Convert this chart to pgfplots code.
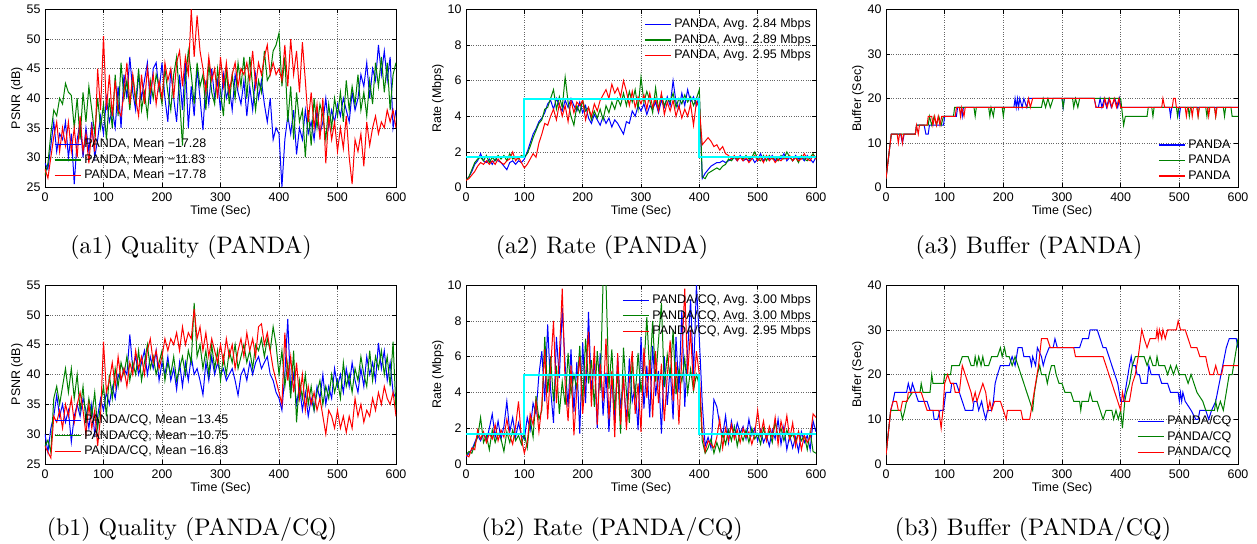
\documentclass[border=0pt]{standalone}
\usepackage{fontspec}
\usepackage{pgfplots}
\usepackage{pgfplotstable}
\pgfplotsset{compat=1.18}
\newfontfamily\hv{Liberation Sans}
\newfontfamily\capfont{lmroman10-regular.otf}
\definecolor{mblue}{rgb}{0,0,1}
\definecolor{mgreen}{rgb}{0,0.5,0}
\definecolor{mred}{rgb}{1,0,0}
\definecolor{mcyan}{rgb}{0,1,1}

\pgfplotsset{
  panel/.style={
    scale only axis,
    xmin=0, xmax=600, xtick={0,100,...,600},
    grid=major,
    grid style={dotted, black!60, line width=0.5bp},
    tick align=inside,
    major tick length=4bp,
    axis line style={line width=0.6bp},
    every tick/.style={black, line width=0.5bp},
    /pgf/number format/assume math mode=true,
    ticklabel style={font=\hv\fontsize{12.5}{14}\selectfont},
    xticklabel style={yshift=-2bp},
    yticklabel style={xshift=-1bp},
    label style={font=\hv\fontsize{12.5}{14}\selectfont},
    xlabel={Time (Sec)},
    xlabel style={at={(axis description cs:0.5,0)}, anchor=center, yshift=-24bp},
    ylabel style={at={(axis description cs:-0.08,0.5)}, anchor=center},
    legend cell align=left,
    legend style={draw=none, fill=none, inner sep=0pt, anchor=north west,
      font=\hv\fontsize{12.5}{14}\selectfont,
      nodes={inner sep=0pt, text height=9bp, text depth=2.5bp},
      row sep=4bp, column sep=3bp},
    legend image code/.code={\draw[#1, line width=1.1bp] (0bp,0bp) -- (26bp,0bp);},
    every axis plot/.append style={line width=1bp},
  }
}

\pgfplotstableread{
t b g r
0 29 27 28
5 28 29 26.5
10 32 34 30
15 36 38 33.5
20 31 37 36
25 34 40 31
30 33 39 35
35 36 42.5 32
40 30 41 36
45 34 40.5 31
50 25.5 35 35
55 33 40 30
60 36 33 37
65 30 41 31
70 35 36 34
75 31 42 29
80 36 38 35
85 30 34 31
90 33 40 45
95 37 35 38
100 34 39 50.5
105 40 33 38
110 36 40 44
115 38 35 37
120 35 44 43
125 42 37 38
130 35 46 37
135 44 40 41
140 40 43 46
145 47 38 39
150 41 44 44
155 38 39 40
160 44 45 37
165 40 38 44
170 43 41 39
175 46 37 45
180 39 43 41
185 45 40 44
190 46 44 39
195 41 42 43
200 46 39 40
205 40 45 46
210 36 41 43
215 45 38 45
220 40 44 40
225 36 47 46
230 44 40 48
235 38 32 42
240 46 43 47
245 35 48 44
250 42 44 55
255 37 39 47
260 45 46 54
265 40 42 48
270 34.6 44 45
275 43 38 41
280 39 46 47
285 45 41 43
290 40 39 45
295 43 45 40
300 38 41 47
305 44 37 42
310 40 45 46
315 42 39 41
320 38 44 44
325 44 40 46
330 41 46 42
335 39 42 45
340 43 47 44
345 37 40 46
350 42 47 43
355 38 42 48
360 44 38 42
365 40 43 46
370 43 41 44
375 39 48 47
380 36 43 49
385 40 44 44
390 33 48 46
395 35 49 44
400 34 51 45
405 25 42 43
410 33 47 49
415 37 36 42
420 34 42 50
425 38 33 44
430 30.5 41 48
435 35 36 41
440 33 38 49.5
445 38 30 43
450 34 38 36
455 36 32 41
460 33 40 35
465 38 35 39
470 34 39 33
475 36 37 40
480 40 33 29
485 35 39 37
490 38 35 33
495 36 40 36
500 39 37 31
505 37 41 35
510 40 36 31.5
515 38 43 37
520 36 38 30
525 41 42 25.5
530 38 39 33
535 40 44 31
540 44 38 34
545 42 41 28.5
550 46 37 36
555 40 43 32
560 45 39 35
565 43 46 37
570 49 42 34
575 44 47 36
580 48 41 35
585 43 46 38
590 47 38 36
595 35 44 38
600 38 46 35
}\aone

\pgfplotstableread{
t b g r
0 0.4 0.4 0.4
5 0.6 0.6 0.5
10 0.9 1.0 0.7
15 1.3 1.4 0.9
20 1.5 1.6 1.2
25 1.9 1.7 1.4
30 1.5 1.5 1.3
35 1.4 1.8 1.5
40 1.6 1.4 1.3
45 1.3 1.7 1.5
50 1.6 1.5 1.3
55 1.5 1.8 1.6
60 1.4 1.6 1.4
65 1.2 1.8 1.3
70 1.0 1.5 1.5
75 1.4 1.9 1.6
80 1.5 1.6 2.0
85 1.3 1.7 1.5
90 1.5 1.6 1.7
95 1.4 1.8 1.4
100 1.6 1.7 1.1
105 2.0 1.9 1.3
110 2.5 2.3 1.6
115 3.0 2.8 1.9
120 3.3 3.2 1.7
125 3.7 3.6 2.5
130 3.9 3.8 3.0
135 4.2 4.4 3.6
140 4.7 4.5 3.5
145 4.9 5.0 4.0
150 4.4 5.5 4.4
155 5.0 4.4 3.8
160 4.6 5.1 4.7
165 4.3 4.5 4.0
170 4.9 6.2 4.6
175 4.5 4.8 3.7
180 5.0 4.0 4.9
185 4.6 3.5 4.2
190 4.3 4.6 4.8
195 4.8 4.2 4.6
200 4.2 4.9 4.9
205 4.6 4.3 3.8
210 3.9 4.5 4.5
215 3.6 3.8 4.0
220 4.1 4.3 4.7
225 3.8 3.9 4.3
230 3.5 4.4 4.9
235 4.0 3.8 5.2
240 3.6 4.6 5.5
245 3.9 4.2 5.0
250 3.4 4.8 5.8
255 3.8 4.4 5.3
260 3.6 5.0 5.6
265 3.3 4.6 5.1
270 3.0 5.3 6.0
275 3.7 4.6 5.4
280 3.6 5.4 4.6
285 4.3 4.8 5.4
290 4.0 5.5 4.5
295 4.6 4.4 5.1
300 4.3 6.2 4.7
305 4.7 4.8 5.2
310 4.1 5.4 4.4
315 4.6 4.9 5.3
320 4.4 4.2 4.5
325 4.8 5.6 5.0
330 4.2 4.4 4.3
335 4.9 5.2 5.3
340 4.5 4.6 4.1
345 5.1 5.0 4.8
350 4.6 4.8 4.3
355 6.0 5.3 4.9
360 4.8 4.5 4.0
365 4.4 5.0 4.6
370 5.3 4.7 3.9
375 4.6 5.2 4.4
380 5.5 4.8 4.0
385 4.8 5.1 4.7
390 5.1 4.6 3.5
395 4.6 5.0 4.8
400 5.1 5.5 4.5
405 0.5 0.6 2.4
410 0.8 0.5 2.6
415 1.0 0.8 2.8
420 1.2 0.9 2.6
425 1.3 1.0 2.3
430 1.4 1.1 2.4
435 1.4 1.0 2.1
440 1.5 1.2 2.3
445 1.4 1.3 1.9
450 1.5 1.6 1.8
455 1.6 1.5 1.6
460 1.7 1.7 1.8
465 1.5 1.6 1.5
470 1.8 1.7 1.7
475 1.5 1.6 1.5
480 1.6 1.8 1.7
485 1.5 1.6 1.4
490 1.7 1.7 1.6
495 1.4 2.0 1.8
500 1.6 1.6 1.5
505 1.9 1.5 1.7
510 1.5 1.8 1.4
515 1.7 1.5 1.8
520 1.6 1.8 1.5
525 1.8 1.6 1.7
530 1.5 1.7 1.4
535 1.7 1.5 1.6
540 1.6 1.8 1.5
545 1.9 1.6 1.7
550 1.5 2.0 1.6
555 1.7 1.7 1.8
560 1.5 1.5 1.5
565 1.8 1.7 1.7
570 1.6 1.4 1.5
575 1.7 1.8 1.6
580 1.5 1.6 1.9
585 1.8 1.5 1.6
590 1.6 1.7 1.5
595 1.4 1.9 1.8
600 1.7 1.6 1.6
}\atwo

\pgfplotstableread{
t b g r
0 30 28 28
5 27 29 27
10 31 27 26
15 33 36 33
20 36.5 38 32
25 33 35 34
30 35 38 31
35 32 41 35
40 34 37 33
45 28.7 41 36
50 33 36 32
55 35 40 35
60 33 34 37
65 36 38 34
70 34 32 30
75 31 36 35
80 35 33 31
85 30 37 34
90 33 31 28
95 36 35 33
100 34 38 45.5
105 37 33 37
110 35 40 39
115 38 36 42
120 36 41 38
125 40 38 43
130 39 42 39
135 41 40 41
140 40 43 38
145 46.7 39 42
150 41 42 40
155 43 40 44
160 40 44 41
165 42 39 43
170 44 42 40
175 40 45 44
180 43 41 46
185 41 43 42
190 44 40 44
195 39 42 41
200 42 44 43
205 40 39 46
210 43 42 44
215 39 40 46
220 41 43 45
225 37.5 39 47
230 42 41 44
235 38 43 48
240 42 40 45
245 39 44 47
250 43 42 46
255 40 52 51
260 41 43 46
265 39 45 48
270 36.6 41 44
275 42 44 47
280 39 40 43
285 43 45 46
290 40 41 44
295 42 44 42
300 40 39 45
305 41 43 42
310 39 40 46
315 40 44 43
320 41 42 45
325 39 45 41
330 36.5 41 44
335 40 43 46
340 41 45 43
345 39 42 47
350 42 44 44
355 40 41 46
360 42 45 43
365 43 44 48
370 41 46 48.5
375 42 43 45
380 43 46 47
385 40 44 44
390 39 48 41
395 37 45 39
400 36 40 37
405 34 44 35
410 40 38 47
415 49.3 42 39
420 37 36 43
425 40 44 37
430 35 32 42
435 38 39 36
440 34 36 40
445 37 40 34
450 33 35 38
455 36 38 35
460 34 34 37
465 38 37 34
470 36 39 36
475 40 35 33
480 35 38 30
485 38 36 34
490 36 40 33
495 41 37 31
500 38 39 34
505 40 36 31
510 37 42 33
515 41 38 30.3
520 38 40 33
525 42 37 31
530 39 41 36
535 37 39 33
540 41 43 35
545 38 40 32
550 43 38 34
555 40 44 33
560 42 39 36
565 39 43 34
570 45.3 41 37
575 41 44 35
580 44 40 38
585 39 43 36
590 42 38 35
595 37 45.5 37
600 36 34 33
}\bone

\pgfplotstableread{
t b g r
0 0.4 0.5 0.5
5 0.6 0.7 0.4
10 0.8 0.6 0.9
15 1.2 1.1 0.8
20 1.6 1.5 1.9
25 1.3 2.6 1.4
30 1.7 1.2 1.8
35 1.3 1.6 1.2
40 2.0 0.8 1.7
45 2.8 1.9 1.4
50 1.5 1.2 2.2
55 2.4 1.7 1.3
60 1.4 1.4 1.9
65 2.1 0.7 1.5
70 3.5 1.8 2.5
75 1.8 1.2 1.6
80 2.6 1.9 1.1
85 1.5 1.3 2.1
90 2.3 1.6 3.5
95 1.6 1.1 1.4
100 1.4 1.7 0.6
105 2.6 0.9 1.2
110 1.9 2.5 2.8
115 3.4 1.5 2.2
120 2.8 3.8 3.5
125 5.0 2.5 1.8
130 6.3 3.0 3.3
135 3.5 7.1 6.4
140 7.8 4.0 2.5
145 4.2 6.0 5.3
150 2.3 3.5 8.0
155 7.1 5.5 3.4
160 4.8 2.8 6.0
165 8.7 4.6 9.8
170 5.5 3.3 4.4
175 3.2 6.2 2.4
180 6.4 3.9 5.5
185 2.9 5.0 1.6
190 5.7 4.2 4.1
195 1.7 6.6 6.0
200 6.8 3.4 2.8
205 3.4 7.0 4.9
210 8.5 4.5 7.4
215 4.0 5.8 3.2
220 5.8 3.2 6.6
225 2.0 6.3 2.2
230 6.2 4.1 5.6
235 2.7 10.2 3.5
240 5.1 10.2 7.0
245 1.8 4.2 2.5
250 4.8 6.4 5.2
255 2.4 3.0 1.5
260 6.0 5.2 6.2
265 3.1 1.7 2.2
270 4.7 6.5 5.0
275 2.3 4.0 1.9
280 5.9 2.3 4.6
285 3.5 5.8 6.3
290 4.3 3.7 2.8
295 1.9 6.2 4.5
300 7.1 4.0 1.8
305 3.1 5.4 6.5
310 5.5 8.2 3.7
315 2.6 5.0 5.8
320 6.6 8.0 2.6
325 3.8 4.6 6.3
330 5.2 6.9 3.4
335 1.7 9.0 5.6
340 6.0 4.3 2.4
345 3.3 6.1 4.9
350 5.4 4.8 6.9
355 2.5 7.5 3.5
360 7.1 3.9 5.7
365 4.0 5.3 2.2
370 8.6 4.6 6.0
375 3.2 5.9 9.8
380 6.3 4.0 5.0
385 9.2 5.3 7.5
390 4.9 4.1 4.1
395 10.0 5.0 6.3
400 7.0 4.4 5.0
405 3.4 1.3 1.8
410 1.0 0.6 0.7
415 1.5 0.9 1.3
420 0.9 1.4 1.1
425 3.6 0.6 0.9
430 3.2 1.2 1.5
435 2.2 0.7 2.5
440 1.6 1.7 0.9
445 2.7 1.1 2.0
450 1.2 1.9 1.3
455 2.4 1.3 2.2
460 1.5 2.1 1.4
465 2.3 1.0 1.9
470 1.7 1.8 1.2
475 2.1 1.3 2.0
480 1.4 1.9 1.5
485 2.5 1.2 1.8
490 1.6 2.0 1.1
495 2.0 1.4 1.7
500 1.3 1.7 3.0
505 1.9 1.1 1.6
510 1.2 2.0 2.4
515 1.6 1.4 1.3
520 1.0 1.8 2.1
525 1.9 1.2 1.5
530 1.4 2.4 2.6
535 2.5 1.5 1.1
540 1.1 2.0 2.4
545 2.1 1.3 1.7
550 0.8 1.9 2.7
555 1.6 1.4 1.4
560 0.9 1.7 2.3
565 1.5 1.2 1.0
570 0.7 1.8 1.8
575 1.8 1.3 0.8
580 1.2 1.6 1.6
585 1.6 0.8 1.2
590 0.8 1.8 1.5
595 2.4 0.7 2.8
600 1.8 0.6 2.6
}\btwo

\begin{document}
\begin{tikzpicture}
\path[use as bounding box] (0,0) rectangle (1257bp,-544bp);

% ---------- (a1) ----------
\begin{axis}[panel, at={(45bp,-9.5bp)}, anchor=north west,
  width=351bp, height=177.5bp, ymin=25, ymax=55, ytick={25,30,...,55},
  ylabel={PSNR (dB)}, legend style={at={(0.0256,0.273)}}]
\addplot[mblue] table[x=t,y=b] {\aone};
\addlegendentry{PANDA, Mean −17.28}
\addplot[mgreen] table[x=t,y=g] {\aone};
\addlegendentry{PANDA, Mean −11.83}
\addplot[mred] table[x=t,y=r] {\aone};
\addlegendentry{PANDA, Mean −17.78}
\end{axis}

% ---------- (a2) ----------
\begin{axis}[panel, at={(466bp,-9.5bp)}, anchor=north west,
  width=350bp, height=178bp, ymin=0, ymax=10, ytick={0,2,...,10},
  ylabel={Rate (Mbps)}, legend style={at={(0.509,0.949)}}]
\addplot[mblue] table[x=t,y=b] {\atwo};
\addlegendentry{PANDA, Avg. 2.84 Mbps}
\addplot[mgreen] table[x=t,y=g] {\atwo};
\addlegendentry{PANDA, Avg. 2.89 Mbps}
\addplot[mred] table[x=t,y=r] {\atwo};
\addlegendentry{PANDA, Avg. 2.95 Mbps}
\addplot[mcyan, line width=2bp, forget plot] coordinates {(0,1.7)(100,1.7)(100,5)(400,5)(400,1.7)(600,1.7)};
\end{axis}

% ---------- (a3) ----------
\begin{axis}[panel, at={(886bp,-9.5bp)}, anchor=north west,
  width=352bp, height=178bp, ymin=0, ymax=40, ytick={0,10,...,40},
  ylabel={Buffer (Sec)}, legend style={at={(0.773,0.272)}}]
\addplot[mblue] coordinates {(0,2)(9,12)(25,12)(28,10)(31,12)(50,12)(52,14)(65,14)(68,12)(72,12)(74,14)(98,14)(100,16)(120,16)(122,18)(128,18)(130,16)(132,18)(218,18)(220,20)(222,18)(224,20)(226,18)(228,20)(232,18)(235,20)(240,18)(243,20)(300,20)(302,18)(304,20)(355,20)(358,18)(362,18)(365,20)(368,18)(372,20)(376,18)(380,20)(384,18)(390,20)(395,18)(398,20)(400,18)(483,18)(485,16)(487,18)(498,18)(500,16)(502,18)(600,18)};
\addlegendentry{PANDA}
\addplot[mgreen] coordinates {(0,2)(9,12)(50,12)(52,14)(72,14)(74,16)(78,14)(82,16)(86,14)(90,16)(94,14)(98,16)(115,16)(117,18)(150,18)(152,16)(154,18)(175,18)(177,16)(179,18)(183,16)(185,18)(198,18)(200,16)(202,18)(265,18)(268,20)(272,18)(276,20)(280,18)(285,20)(300,20)(302,18)(304,20)(318,20)(320,18)(323,20)(327,18)(330,20)(400,20)(405,14)(408,16)(445,16)(447,18)(453,18)(455,16)(457,18)(495,18)(497,16)(499,18)(515,18)(517,16)(519,18)(530,18)(532,16)(534,18)(545,18)(547,16)(549,18)(560,18)(562,16)(564,18)(575,18)(577,16)(579,18)(588,18)(590,16)(600,16)};
\addlegendentry{PANDA}
\addplot[mred] coordinates {(0,2)(9,12)(19,12)(21,10)(23,12)(26,12)(28,10)(30,12)(50,12)(52,14)(55,12)(57,14)(70,14)(72,16)(78,16)(80,14)(83,16)(86,14)(89,16)(92,14)(95,16)(118,16)(120,18)(125,18)(127,16)(129,18)(133,16)(135,18)(240,18)(243,20)(246,18)(250,20)(355,20)(358,18)(370,18)(373,20)(377,18)(381,20)(385,18)(389,20)(393,18)(397,20)(400,18)(470,18)(472,20)(475,18)(488,18)(490,20)(493,20)(495,18)(510,18)(512,16)(514,18)(520,18)(522,16)(524,18)(530,18)(532,16)(534,18)(548,18)(550,16)(552,18)(560,18)(562,16)(564,18)(600,18)};
\addlegendentry{PANDA}
\end{axis}

% ---------- (b1) ----------
\begin{axis}[panel, at={(45bp,-285bp)}, anchor=north west,
  width=351bp, height=179bp, ymin=25, ymax=55, ytick={25,30,...,55},
  ylabel={PSNR (dB)}, legend style={at={(0.0256,0.277)}}]
\addplot[mblue] table[x=t,y=b] {\bone};
\addlegendentry{PANDA/CQ, Mean −13.45}
\addplot[mgreen] table[x=t,y=g] {\bone};
\addlegendentry{PANDA/CQ, Mean −10.75}
\addplot[mred] table[x=t,y=r] {\bone};
\addlegendentry{PANDA/CQ, Mean −16.83}
\end{axis}

% ---------- (b2) ----------
\begin{axis}[panel, at={(466bp,-285bp)}, anchor=north west,
  width=350bp, height=179bp, ymin=0, ymax=10, ytick={0,2,...,10},
  ylabel={Rate (Mbps)}, legend style={at={(0.446,0.947)}}]
\addplot[mblue] table[x=t,y=b] {\btwo};
\addlegendentry{PANDA/CQ, Avg. 3.00 Mbps}
\addplot[mgreen] table[x=t,y=g] {\btwo};
\addlegendentry{PANDA/CQ, Avg. 3.00 Mbps}
\addplot[mred] table[x=t,y=r] {\btwo};
\addlegendentry{PANDA/CQ, Avg. 2.95 Mbps}
\addplot[mcyan, line width=2bp, forget plot] coordinates {(0,1.7)(100,1.7)(100,5)(400,5)(400,1.7)(600,1.7)};
\end{axis}

% ---------- (b3) ----------
\begin{axis}[panel, at={(886bp,-285bp)}, anchor=north west,
  width=352bp, height=179bp, ymin=0, ymax=40, ytick={0,10,...,40},
  ylabel={Buffer (Sec)}, legend style={at={(0.713,0.271)}}]
\addplot[mblue] coordinates {(0,2)(8,12)(12,14)(15,16)(35,16)(38,18)(42,16)(45,18)(50,16)(55,14)(70,14)(75,12)(80,12)(82,10)(88,10)(92,12)(98,12)(102,16)(110,16)(112,18)(120,18)(125,16)(130,14)(135,12)(148,12)(150,14)(155,14)(158,12)(163,14)(166,12)(170,10)(173,12)(180,12)(183,14)(186,18)(190,20)(195,22)(210,22)(215,24)(220,22)(225,26)(232,26)(235,24)(245,24)(248,22)(250,24)(255,22)(258,26)(265,24)(268,22)(272,24)(278,26)(285,26)(288,28)(292,26)(330,26)(335,28)(345,28)(348,30)(360,30)(365,28)(370,26)(375,26)(380,24)(385,22)(390,20)(395,18)(400,14)(405,14)(410,18)(415,22)(418,24)(420,22)(425,22)(428,20)(432,20)(435,18)(445,18)(448,22)(452,20)(465,20)(470,18)(480,18)(485,16)(498,16)(500,14)(502,16)(504,14)(506,16)(510,14)(520,12)(528,10)(532,10)(535,12)(545,12)(550,10)(555,12)(562,14)(568,18)(574,22)(580,26)(585,28)(597,28)(600,26)};
\addlegendentry{PANDA/CQ}
\addplot[mgreen] coordinates {(0,2)(8,12)(25,12)(28,10)(32,12)(35,14)(45,16)(58,16)(60,18)(63,16)(75,16)(78,20)(80,18)(98,18)(100,20)(110,20)(112,22)(125,22)(130,24)(140,24)(145,22)(150,22)(152,24)(155,22)(158,24)(162,22)(165,24)(168,22)(175,22)(180,24)(190,24)(195,26)(198,24)(202,26)(205,24)(210,24)(215,22)(220,24)(225,22)(230,20)(235,18)(240,16)(245,14)(250,12)(253,16)(258,20)(262,22)(265,20)(272,20)(275,18)(278,20)(282,22)(287,22)(290,20)(295,18)(300,18)(305,16)(315,16)(320,14)(330,14)(332,12)(334,14)(345,14)(348,16)(352,14)(360,14)(365,12)(370,10)(375,12)(385,12)(388,10)(392,12)(396,10)(400,12)(403,8)(407,14)(410,16)(415,18)(420,22)(425,24)(440,24)(445,22)(450,24)(455,22)(460,22)(462,24)(465,22)(475,22)(480,20)(485,22)(490,20)(495,22)(500,20)(510,20)(515,18)(520,20)(525,18)(530,16)(540,14)(545,12)(560,12)(562,14)(565,12)(570,14)(575,12)(580,16)(585,20)(590,20)(595,24)(600,28)};
\addlegendentry{PANDA/CQ}
\addplot[mred] coordinates {(0,2)(8,12)(12,14)(18,14)(21,12)(25,12)(28,14)(36,14)(38,16)(60,16)(65,14)(70,12)(90,12)(94,8)(97,12)(100,18)(105,20)(110,18)(115,18)(118,16)(125,16)(130,22)(135,20)(140,18)(145,16)(148,14)(152,16)(155,14)(160,16)(165,18)(170,16)(174,12)(177,14)(180,12)(185,14)(195,14)(200,12)(205,10)(207,12)(230,12)(233,10)(245,10)(250,14)(255,18)(260,22)(265,28)(275,28)(280,26)(320,26)(323,24)(370,24)(375,22)(380,20)(385,18)(390,16)(395,14)(400,12)(403,16)(406,14)(415,14)(420,18)(425,20)(430,24)(436,30)(440,28)(445,26)(450,28)(460,28)(462,30)(464,28)(466,30)(470,28)(472,30)(476,28)(480,30)(495,30)(498,32)(502,30)(510,30)(515,28)(520,26)(530,26)(535,24)(545,24)(548,22)(552,20)(558,20)(562,22)(566,20)(572,20)(575,22)(600,22)};
\addlegendentry{PANDA/CQ}
\end{axis}

% ---------- captions ----------
\begin{scope}[every node/.style={anchor=base, font=\capfont\fontsize{24}{28}\selectfont}]
\node at (191bp,-253bp) {(a1) Quality (PANDA)};
\node at (602bp,-253bp) {(a2) Rate (PANDA)};
\node at (1029bp,-253bp) {(a3) Buffer (PANDA)};
\node at (192bp,-535bp) {(b1) Quality (PANDA/CQ)};
\node at (612bp,-535bp) {(b2) Rate (PANDA/CQ)};
\node at (1033bp,-535bp) {(b3) Buffer (PANDA/CQ)};
\end{scope}
\end{tikzpicture}
\end{document}
